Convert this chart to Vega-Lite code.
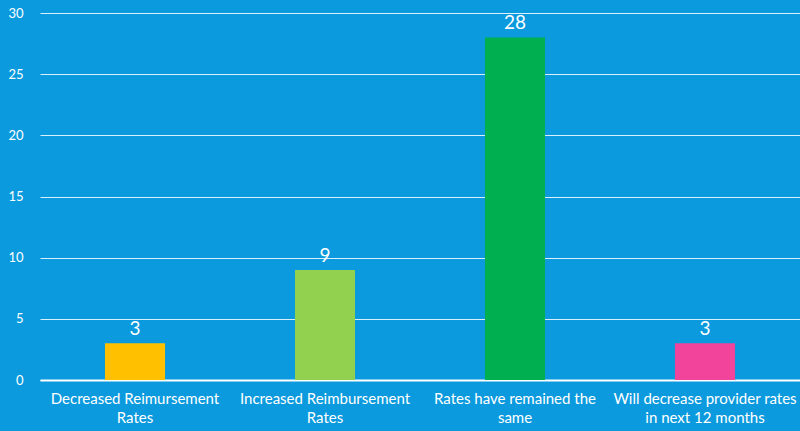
{
  "$schema": "https://vega.github.io/schema/vega-lite/v6.json",
  "width": 760,
  "height": 367,
  "autosize": {"type": "none"},
  "padding": {"left": 40, "top": 13, "right": 0, "bottom": 51},
  "background": "#0B9ADD",
  "config": {
    "view": {"stroke": null},
    "font": "Lato"
  },
  "data": {
    "values": [
      {"category": "Decreased Reimursement Rates", "value": 3, "color": "#FFC000"},
      {"category": "Increased Reimbursement Rates", "value": 9, "color": "#92D050"},
      {"category": "Rates have remained the same", "value": 28, "color": "#00B050"},
      {"category": "Will decrease provider rates in next 12 months", "value": 3, "color": "#F2449A"}
    ]
  },
  "encoding": {
    "x": {
      "field": "category",
      "type": "nominal",
      "sort": null,
      "scale": {"paddingInner": 0.684, "paddingOuter": 0.342},
      "axis": {
        "title": null,
        "labelAngle": 0,
        "labelColor": "white",
        "labelFontSize": 15,
        "labelLineHeight": 19,
        "labelPadding": 11,
        "labelLimit": 400,
        "labelOverlap": false,
        "ticks": false,
        "domainColor": "white",
        "domainWidth": 2,
        "labelExpr": "datum.label == 'Decreased Reimursement Rates' ? ['Decreased Reimursement','Rates'] : datum.label == 'Increased Reimbursement Rates' ? ['Increased Reimbursement','Rates'] : datum.label == 'Rates have remained the same' ? ['Rates have remained the','same'] : ['Will decrease provider rates','in next 12 months']"
      }
    },
    "y": {
      "field": "value",
      "type": "quantitative",
      "scale": {"domain": [0, 30]},
      "axis": {
        "title": null,
        "values": [0, 5, 10, 15, 20, 25, 30],
        "labelColor": "white",
        "labelFontSize": 13,
        "labelPadding": 17,
        "ticks": false,
        "domain": false,
        "gridColor": "white",
        "gridOpacity": 0.85,
        "gridWidth": 1
      }
    }
  },
  "layer": [
    {
      "mark": {"type": "bar"},
      "encoding": {
        "color": {"field": "color", "type": "nominal", "scale": null}
      }
    },
    {
      "mark": {"type": "text", "baseline": "bottom", "dy": -4, "color": "white", "fontSize": 19},
      "encoding": {"text": {"field": "value", "type": "quantitative"}}
    }
  ]
}
